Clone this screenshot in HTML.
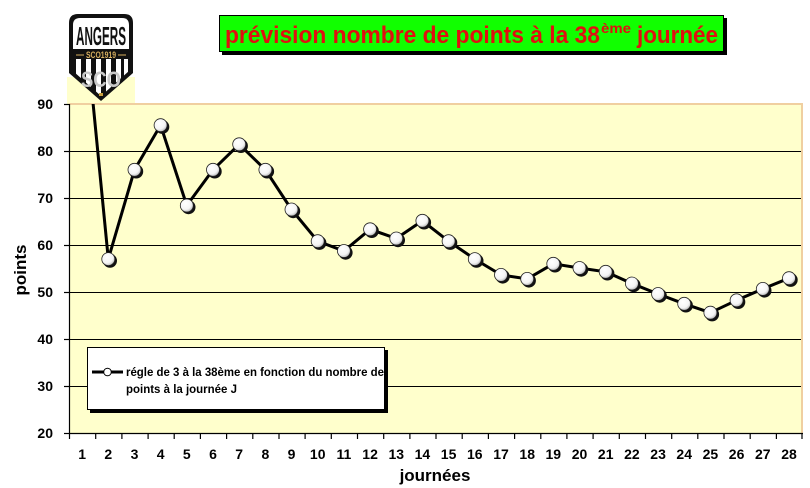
<!DOCTYPE html>
<html>
<head>
<meta charset="utf-8">
<style>
  html, body { margin: 0; padding: 0; background: #ffffff; }
  svg { display: block; }
  text { font-family: "Liberation Sans", Arial, sans-serif; font-weight: bold; }
</style>
</head>
<body>
<svg width="810" height="488" viewBox="0 0 810 488" xmlns="http://www.w3.org/2000/svg">
  <defs>
    <radialGradient id="mk" cx="40%" cy="35%" r="65%">
      <stop offset="0%" stop-color="#ffffff"/>
      <stop offset="70%" stop-color="#f4f4f4"/>
      <stop offset="100%" stop-color="#bdbdbd"/>
    </radialGradient>
    <clipPath id="plotclip">
      <rect x="69" y="104" width="733" height="329"/>
    </clipPath>
    <clipPath id="shieldLow">
      <path d="M73,59 L129,59 L129,71 L101,96 L73,71 Z"/>
    </clipPath>
  </defs>

  <!-- logo beige backing -->
  <rect x="67" y="77" width="68" height="27" fill="#FFFFCC"/>

  <!-- plot area -->
  <rect x="69" y="104" width="733" height="329" fill="#FFFFCC"/>
  <line x1="69" y1="104" x2="803" y2="104" stroke="#F0CFA0" stroke-width="2"/>
  <line x1="802" y1="103" x2="802" y2="433" stroke="#F0CFA0" stroke-width="2"/>

  <!-- gridlines -->
  <g stroke="#000" stroke-width="1">
    <line x1="69" y1="151.5" x2="801" y2="151.5"/>
    <line x1="69" y1="198.5" x2="801" y2="198.5"/>
    <line x1="69" y1="245.5" x2="801" y2="245.5"/>
    <line x1="69" y1="292.5" x2="801" y2="292.5"/>
    <line x1="69" y1="339.5" x2="801" y2="339.5"/>
    <line x1="69" y1="386.5" x2="801" y2="386.5"/>
  </g>

  <!-- axes -->
  <g stroke="#000" stroke-width="1.2">
    <line x1="69.5" y1="104" x2="69.5" y2="433"/>
    <line x1="69" y1="433.5" x2="803" y2="433.5"/>
    <line x1="64" y1="104.5" x2="69" y2="104.5"/>
    <line x1="64" y1="151.5" x2="69" y2="151.5"/>
    <line x1="64" y1="198.5" x2="69" y2="198.5"/>
    <line x1="64" y1="245.5" x2="69" y2="245.5"/>
    <line x1="64" y1="292.5" x2="69" y2="292.5"/>
    <line x1="64" y1="339.5" x2="69" y2="339.5"/>
    <line x1="64" y1="386.5" x2="69" y2="386.5"/>
    <line x1="64" y1="433.5" x2="69" y2="433.5"/>
  </g>
  <!-- x ticks -->
  <g stroke="#000" stroke-width="1.2">
    <line x1="69.5" y1="433" x2="69.5" y2="439"/>
    <line x1="95.7" y1="433" x2="95.7" y2="439"/>
    <line x1="121.9" y1="433" x2="121.9" y2="439"/>
    <line x1="148.1" y1="433" x2="148.1" y2="439"/>
    <line x1="174.2" y1="433" x2="174.2" y2="439"/>
    <line x1="200.4" y1="433" x2="200.4" y2="439"/>
    <line x1="226.6" y1="433" x2="226.6" y2="439"/>
    <line x1="252.8" y1="433" x2="252.8" y2="439"/>
    <line x1="279.0" y1="433" x2="279.0" y2="439"/>
    <line x1="305.1" y1="433" x2="305.1" y2="439"/>
    <line x1="331.3" y1="433" x2="331.3" y2="439"/>
    <line x1="357.5" y1="433" x2="357.5" y2="439"/>
    <line x1="383.7" y1="433" x2="383.7" y2="439"/>
    <line x1="409.9" y1="433" x2="409.9" y2="439"/>
    <line x1="436.0" y1="433" x2="436.0" y2="439"/>
    <line x1="462.2" y1="433" x2="462.2" y2="439"/>
    <line x1="488.4" y1="433" x2="488.4" y2="439"/>
    <line x1="514.6" y1="433" x2="514.6" y2="439"/>
    <line x1="540.8" y1="433" x2="540.8" y2="439"/>
    <line x1="566.9" y1="433" x2="566.9" y2="439"/>
    <line x1="593.1" y1="433" x2="593.1" y2="439"/>
    <line x1="619.3" y1="433" x2="619.3" y2="439"/>
    <line x1="645.5" y1="433" x2="645.5" y2="439"/>
    <line x1="671.7" y1="433" x2="671.7" y2="439"/>
    <line x1="697.8" y1="433" x2="697.8" y2="439"/>
    <line x1="724.0" y1="433" x2="724.0" y2="439"/>
    <line x1="750.2" y1="433" x2="750.2" y2="439"/>
    <line x1="776.4" y1="433" x2="776.4" y2="439"/>
    <line x1="802.0" y1="433" x2="802.0" y2="439"/>
  </g>

  <!-- y tick labels -->
  <g font-size="14" text-anchor="end" fill="#000">
    <text x="53" y="109">90</text>
    <text x="53" y="156">80</text>
    <text x="53" y="203">70</text>
    <text x="53" y="250">60</text>
    <text x="53" y="297">50</text>
    <text x="53" y="344">40</text>
    <text x="53" y="391">30</text>
    <text x="53" y="438">20</text>
  </g>

  <!-- x tick labels -->
  <g font-size="14" text-anchor="middle" fill="#000">
    <text x="82.1" y="459">1</text>
    <text x="108.3" y="459">2</text>
    <text x="134.5" y="459">3</text>
    <text x="160.6" y="459">4</text>
    <text x="186.8" y="459">5</text>
    <text x="213.0" y="459">6</text>
    <text x="239.2" y="459">7</text>
    <text x="265.4" y="459">8</text>
    <text x="291.5" y="459">9</text>
    <text x="317.7" y="459">10</text>
    <text x="343.9" y="459">11</text>
    <text x="370.1" y="459">12</text>
    <text x="396.3" y="459">13</text>
    <text x="422.4" y="459">14</text>
    <text x="448.6" y="459">15</text>
    <text x="474.8" y="459">16</text>
    <text x="501.0" y="459">17</text>
    <text x="527.2" y="459">18</text>
    <text x="553.3" y="459">19</text>
    <text x="579.5" y="459">20</text>
    <text x="605.7" y="459">21</text>
    <text x="631.9" y="459">22</text>
    <text x="658.1" y="459">23</text>
    <text x="684.2" y="459">24</text>
    <text x="710.4" y="459">25</text>
    <text x="736.6" y="459">26</text>
    <text x="762.8" y="459">27</text>
    <text x="789.0" y="459">28</text>
  </g>

  <!-- axis titles -->
  <text x="435" y="481" font-size="17" text-anchor="middle" fill="#000">journées</text>
  <text transform="translate(26,270) rotate(-90)" font-size="17" text-anchor="middle" fill="#000">points</text>

  <!-- series line -->
  <g clip-path="url(#plotclip)">
    <polyline fill="none" stroke="#000" stroke-width="3" stroke-linejoin="round"
      points="82.1,-8.8 108.3,259.1 134.5,169.8 160.6,125.2 186.8,205.5 213.0,169.8 239.2,144.3 265.4,169.8 291.5,209.5 317.7,241.2 343.9,251.0 370.1,229.3 396.3,238.5 422.4,220.8 448.6,241.2 474.8,259.1 501.0,274.9 527.2,278.9 553.3,263.8 579.5,268.0 605.7,271.8 631.9,283.5 658.1,294.0 684.2,303.8 710.4,312.7 736.6,300.3 762.8,288.9 789.0,278.2"/>
  </g>

  <!-- markers -->
  <g>
    <g fill="#111">
      <circle cx="110.0" cy="260.8" r="7"/>
      <circle cx="136.2" cy="171.5" r="7"/>
      <circle cx="162.3" cy="126.9" r="7"/>
      <circle cx="188.5" cy="207.2" r="7"/>
      <circle cx="214.7" cy="171.5" r="7"/>
      <circle cx="240.9" cy="146.0" r="7"/>
      <circle cx="267.1" cy="171.5" r="7"/>
      <circle cx="293.2" cy="211.2" r="7"/>
      <circle cx="319.4" cy="242.9" r="7"/>
      <circle cx="345.6" cy="252.7" r="7"/>
      <circle cx="371.8" cy="231.0" r="7"/>
      <circle cx="398.0" cy="240.2" r="7"/>
      <circle cx="424.1" cy="222.5" r="7"/>
      <circle cx="450.3" cy="242.9" r="7"/>
      <circle cx="476.5" cy="260.8" r="7"/>
      <circle cx="502.7" cy="276.6" r="7"/>
      <circle cx="528.9" cy="280.6" r="7"/>
      <circle cx="555.0" cy="265.5" r="7"/>
      <circle cx="581.2" cy="269.7" r="7"/>
      <circle cx="607.4" cy="273.5" r="7"/>
      <circle cx="633.6" cy="285.2" r="7"/>
      <circle cx="659.8" cy="295.7" r="7"/>
      <circle cx="685.9" cy="305.5" r="7"/>
      <circle cx="712.1" cy="314.4" r="7"/>
      <circle cx="738.3" cy="302.0" r="7"/>
      <circle cx="764.5" cy="290.6" r="7"/>
      <circle cx="790.7" cy="279.9" r="7"/>
    </g>
    <g fill="url(#mk)" stroke="#222" stroke-width="0.8">
      <circle cx="108.3" cy="259.1" r="6.5"/>
      <circle cx="134.5" cy="169.8" r="6.5"/>
      <circle cx="160.6" cy="125.2" r="6.5"/>
      <circle cx="186.8" cy="205.5" r="6.5"/>
      <circle cx="213.0" cy="169.8" r="6.5"/>
      <circle cx="239.2" cy="144.3" r="6.5"/>
      <circle cx="265.4" cy="169.8" r="6.5"/>
      <circle cx="291.5" cy="209.5" r="6.5"/>
      <circle cx="317.7" cy="241.2" r="6.5"/>
      <circle cx="343.9" cy="251.0" r="6.5"/>
      <circle cx="370.1" cy="229.3" r="6.5"/>
      <circle cx="396.3" cy="238.5" r="6.5"/>
      <circle cx="422.4" cy="220.8" r="6.5"/>
      <circle cx="448.6" cy="241.2" r="6.5"/>
      <circle cx="474.8" cy="259.1" r="6.5"/>
      <circle cx="501.0" cy="274.9" r="6.5"/>
      <circle cx="527.2" cy="278.9" r="6.5"/>
      <circle cx="553.3" cy="263.8" r="6.5"/>
      <circle cx="579.5" cy="268.0" r="6.5"/>
      <circle cx="605.7" cy="271.8" r="6.5"/>
      <circle cx="631.9" cy="283.5" r="6.5"/>
      <circle cx="658.1" cy="294.0" r="6.5"/>
      <circle cx="684.2" cy="303.8" r="6.5"/>
      <circle cx="710.4" cy="312.7" r="6.5"/>
      <circle cx="736.6" cy="300.3" r="6.5"/>
      <circle cx="762.8" cy="288.9" r="6.5"/>
      <circle cx="789.0" cy="278.2" r="6.5"/>
    </g>
  </g>

  <!-- legend -->
  <rect x="90" y="350" width="298" height="63" fill="#000"/>
  <rect x="87.5" y="347.5" width="297" height="62" fill="#fff" stroke="#000" stroke-width="1"/>
  <line x1="92" y1="372" x2="123" y2="372" stroke="#000" stroke-width="3"/>
  <circle cx="107.5" cy="372" r="3.8" fill="#fff" stroke="#000" stroke-width="1"/>
  <text x="126" y="376" font-size="12" fill="#000" textLength="258" lengthAdjust="spacingAndGlyphs">régle de 3 à la 38ème en fonction du nombre de</text>
  <text x="126" y="393" font-size="12" fill="#000" textLength="111" lengthAdjust="spacingAndGlyphs">points à la journée J</text>

  <!-- title -->
  <rect x="222" y="18" width="505" height="37" fill="#000"/>
  <rect x="219.5" y="15.5" width="504" height="36" fill="#11FF00" stroke="#000" stroke-width="1"/>
  <text x="225" y="43" font-size="24" fill="#E01010" textLength="375" lengthAdjust="spacingAndGlyphs">prévision nombre de points à la 38</text>
  <text x="601" y="33" font-size="14" fill="#E01010" textLength="30" lengthAdjust="spacingAndGlyphs">ème</text>
  <text x="637" y="43" font-size="24" fill="#E01010" textLength="81" lengthAdjust="spacingAndGlyphs">journée</text>

  <!-- logo shield -->
  <g>
    <path d="M69,23 Q69,14 78,14 L124,14 Q133,14 133,23 L133,73 L101,101 L69,73 Z" fill="#111"/>
    <path d="M73,25 Q73,18 80,18 L122,18 Q129,18 129,25 L129,49 L73,49 Z" fill="#fff"/>
    <text transform="translate(101,45) scale(1,1.45)" x="0" y="0" font-size="18" fill="#111" text-anchor="middle" textLength="50" lengthAdjust="spacingAndGlyphs">ANGERS</text>
    <text x="101" y="58" font-size="9" fill="#D8B060" text-anchor="middle" textLength="30" lengthAdjust="spacingAndGlyphs">SCO1919</text>
    <line x1="76" y1="55" x2="84" y2="55" stroke="#D8B060" stroke-width="1"/>
    <line x1="118" y1="55" x2="126" y2="55" stroke="#D8B060" stroke-width="1"/>
    <g clip-path="url(#shieldLow)">
      <rect x="73" y="59" width="56" height="40" fill="#111"/>
      <rect x="76" y="59" width="5" height="40" fill="#fff"/>
      <rect x="86" y="59" width="5" height="40" fill="#fff"/>
      <rect x="96" y="59" width="5" height="40" fill="#fff"/>
      <rect x="106" y="59" width="5" height="40" fill="#fff"/>
      <rect x="116" y="59" width="5" height="40" fill="#fff"/>
      <rect x="124" y="59" width="4" height="40" fill="#fff"/>
    </g>
    <text x="101" y="87" font-size="22" fill="#c8c8c8" text-anchor="middle" textLength="40" lengthAdjust="spacingAndGlyphs">SCO</text>
    <rect x="99" y="93" width="4" height="3" fill="#C8A040"/>
  </g>
</svg>
</body>
</html>
